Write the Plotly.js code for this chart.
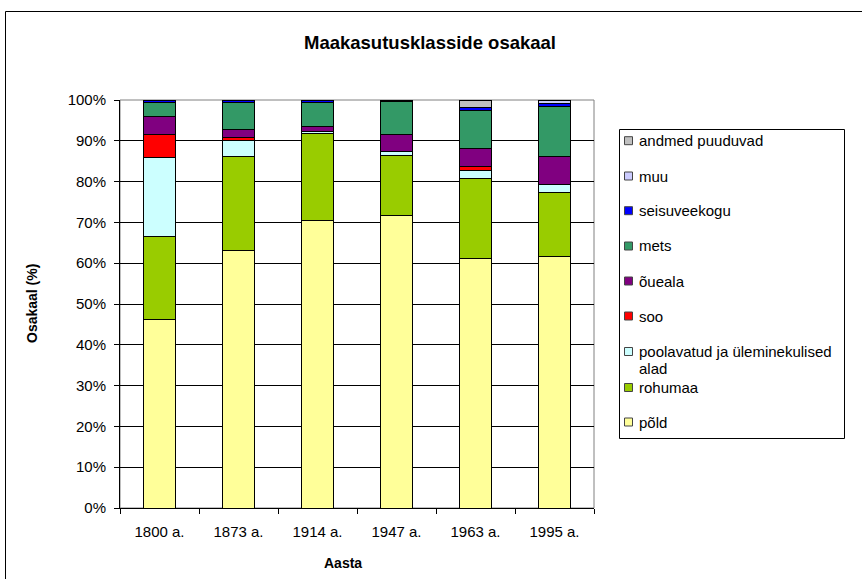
<!DOCTYPE html>
<html>
<head>
<meta charset="utf-8">
<script src="https://cdn.plot.ly/plotly-3.0.1.min.js"></script>
<style>html,body{margin:0;padding:0;background:#fff;}#chart{width:862px;height:579px;}</style>
</head>
<body>
<div id="chart"></div>
<script>
// ---- data ----
const categories = ['1800 a.', '1873 a.', '1914 a.', '1947 a.', '1963 a.', '1995 a.'];
const pold = [46.2, 63.1, 70.4, 71.8, 61.2, 61.6];
const rohumaa = [20.3, 23.0, 21.5, 14.7, 19.6, 15.7];
const poolavatud = [19.5, 3.9, 0.3, 0.8, 1.9, 1.9];
const soo = [5.6, 0.9, 0, 0, 0.9, 0];
const oueala = [4.3, 1.8, 1.4, 4.3, 4.5, 6.9];
const mets = [3.6, 6.6, 5.9, 8.1, 9.4, 12.4];
const seisuveekogu = [0.5, 0.6, 0.4, 0.3, 0.6, 0.7];
const muu = [0, 0.1, 0.1, 0, 0, 0.8];
const andmedPuuduvad = [0, 0, 0, 0, 1.9, 0];
const yTickVals = [0, 10, 20, 30, 40, 50, 60, 70, 80, 90, 100];

const seriesNames = ['põld', 'rohumaa', 'poolavatud ja üleminekulised alad', 'soo', 'õueala', 'mets', 'seisuveekogu', 'muu', 'andmed puuduvad'];
const seriesValues = [pold, rohumaa, poolavatud, soo, oueala, mets, seisuveekogu, muu, andmedPuuduvad];
const seriesColors = ['#FFFF99', '#99CC00', '#CCFFFF', '#FF0000', '#800080', '#339966', '#0000FF', '#CCCCFF', '#C0C0C0'];

// ---- layout helpers (pixel -> paper) ----
const W = 862, H = 579;
const PL = 120, PR = 594, PT = 100, PB = 508;
const px = x => (x - PL) / (PR - PL);
const py = y => (PB - y) / (PB - PT);
const FONT = 'Liberation Sans, Arial, sans-serif';

const traces = seriesNames.map((n, i) => ({
  type: 'bar',
  name: n,
  x: categories,
  y: seriesValues[i],
  marker: {color: seriesColors[i], line: {color: '#000', width: 1}},
  hoverinfo: 'skip'
}));

const shapes = [];
const annotations = [];

// plot area border (grey)
shapes.push({type: 'rect', xref: 'paper', yref: 'paper', x0: 0, x1: 1, y0: 0, y1: 1,
  line: {color: '#808080', width: 1}, layer: 'below'});
// outer chart border (left and top visible)
shapes.push({type: 'line', xref: 'paper', yref: 'paper', x0: px(5.5), x1: px(5.5), y0: py(11.5), y1: py(600),
  line: {color: '#000', width: 1}});
shapes.push({type: 'line', xref: 'paper', yref: 'paper', x0: px(5.5), x1: px(880), y0: py(11.5), y1: py(11.5),
  line: {color: '#000', width: 1}});
// legend box
shapes.push({type: 'rect', xref: 'paper', yref: 'paper', x0: px(619.5), x1: px(844.5), y0: py(129.5), y1: py(438.5),
  line: {color: '#000', width: 1}, fillcolor: '#fff'});

// legend entries (top to bottom: reversed series order)
const legendY = [422, 387.5, 351.5, 316, 281, 246, 210.7, 176, 140.7];
seriesNames.forEach((n, i) => {
  const cy = legendY[i];
  shapes.push({type: 'rect', xref: 'paper', yref: 'paper',
    x0: px(624.5), x1: px(632.5), y0: py(cy - 4), y1: py(cy + 4),
    fillcolor: seriesColors[i], line: {color: '#444', width: 1}});
  const words = n.split(' ');
  const lines = n.length > 25 ? [words.slice(0, -1).join(' '), words[words.length - 1]] : [n];
  lines.forEach((t, k) => {
    annotations.push({xref: 'paper', yref: 'paper', x: px(637), y: py(cy + k * 17),
      xanchor: 'left', yanchor: 'middle', showarrow: false, align: 'left',
      text: t, font: {family: FONT, size: 15, color: '#000'}});
  });
});

// axis titles
annotations.push({xref: 'paper', yref: 'paper', x: px(343), y: py(563), showarrow: false,
  text: '<b>Aasta</b>', font: {family: FONT, size: 14, color: '#000'}, xanchor: 'center', yanchor: 'middle'});
annotations.push({xref: 'paper', yref: 'paper', x: px(32), y: py(304), showarrow: false, textangle: -90,
  text: '<b>Osakaal (%)</b>', font: {family: FONT, size: 14, color: '#000'}, xanchor: 'center', yanchor: 'middle'});

const layout = {
  width: W, height: H,
  margin: {l: PL, r: W - PR, t: PT, b: H - PB, pad: 0},
  paper_bgcolor: '#fff', plot_bgcolor: '#fff',
  barmode: 'stack', bargap: 0.6,
  showlegend: false,
  title: {text: '<b>Maakasutusklasside osakaal</b>', x: 430 / W, xanchor: 'center', xref: 'container',
    y: 1 - 43 / H, yanchor: 'middle', yref: 'container',
    font: {family: FONT, size: 18.5, color: '#000'}},
  font: {family: FONT, size: 15, color: '#000'},
  xaxis: {type: 'category', showline: true, linecolor: '#000', linewidth: 1, ticks: 'outside',
    tickson: 'boundaries', ticklen: 5, tickcolor: '#000', showgrid: false, zeroline: false,
    ticklabelstandoff: 10,
    tickfont: {family: FONT, size: 15, color: '#000'}, fixedrange: true},
  yaxis: {range: [0, 100], tickvals: yTickVals, ticktext: yTickVals.map(v => v + '%'),
    showline: true, linecolor: '#000', linewidth: 1, ticks: 'outside', ticklen: 5, tickcolor: '#000',
    showgrid: true, gridcolor: '#000', gridwidth: 1, zeroline: false,
    ticklabelstandoff: 5,
    tickfont: {family: FONT, size: 15, color: '#000'}, fixedrange: true},
  shapes: shapes,
  annotations: annotations
};

Plotly.newPlot('chart', traces, layout, {displayModeBar: false, staticPlot: true});
</script>
</body>
</html>
